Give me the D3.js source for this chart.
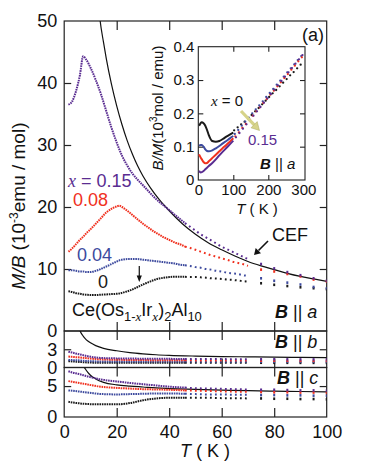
<!DOCTYPE html>
<html><head><meta charset="utf-8">
<script src="https://cdn.jsdelivr.net/npm/d3@7"></script>
<style>
body{margin:0;background:#fff;}
svg{display:block;font-family:"Liberation Sans",Arial,sans-serif;}
</style></head><body>
<svg id="c" width="382" height="466"></svg>
<script>
// ---------- data ----------
const seriesNames = ["x = 0.15", "0.08", "0.04", "0"];
const colors = ["#5a2d91", "#f0301e", "#3d4a9e", "#1a1a1a"];

// main panel (B || a), M/B in 1e-3 emu/mol
const T_main = [1.6,3,4.5,6,7.2,8.5,10,12,14,16,18,20,21,22,24,26,28,30,32,34,36,38,40,42,44,46,48,50,52,54,56,58,60,62,64,66,68,70,75,80,85,90,95,100];
const a_x015 = [36.5,37.0,38.7,41.3,44.3,43.7,42.5,40.5,38.2,35.5,32.8,30.4,29.3,28.3,26.7,25.4,24.4,23.5,22.6,21.7,20.9,20.2,19.5,18.8,18.1,17.4,16.8,16.2,15.6,15.1,14.6,14.1,13.6,13.2,12.8,12.4,12.0,11.6,10.8,10.1,9.5,9.0,8.5,8.1];
const a_x008 = [12.8,13.3,14.0,14.7,15.2,15.8,16.4,17.3,18.2,19.1,19.7,20.1,20.2,20.0,19.4,18.7,18.0,17.3,16.7,16.1,15.6,15.1,14.7,14.3,14.0,13.6,13.4,13.1,12.8,12.5,12.2,12.0,11.7,11.5,11.2,11.0,10.8,10.5,9.9,9.6,9.2,8.8,8.3,8.0];
const a_x004 = [9.8,9.8,9.7,9.6,9.6,9.5,9.5,9.7,10.0,10.4,10.8,11.2,11.4,11.5,11.6,11.6,11.6,11.5,11.4,11.3,11.2,11.1,11.0,10.9,10.7,10.6,10.5,10.3,10.2,10.0,9.9,9.7,9.6,9.4,9.3,9.2,9.0,8.9,8.5,8.1,7.8,7.5,7.1,6.9];
const a_x000 = [6.4,6.3,6.1,6.0,5.9,5.85,5.8,5.8,5.85,5.9,5.95,6.0,6.05,6.15,6.4,6.7,7.1,7.5,7.85,8.2,8.45,8.6,8.7,8.75,8.75,8.75,8.7,8.7,8.65,8.6,8.5,8.45,8.4,8.3,8.25,8.15,8.05,7.95,7.7,7.45,7.25,7.05,6.9,6.75];
const T_cefA = [13.2,13.7,15,16,18,20,22,24,26,28,30,33,36,40,45,50,55,60,65,70,75,80,85,90,95,100];
const cefA = [52,50,46.5,44,39.8,36.3,33.3,30.7,28.5,26.6,25,23,21.3,19.4,17.3,15.6,14.2,13.1,12.1,11.2,10.5,9.9,9.3,8.8,8.4,8.0];

// panels B || b and B || c
const T_bc = [1.6,3,5,7,9,11,13,15,20,25,30,35,40,46,50,55,60,65,70,75,80,85,90,95,100];
const b_x015 = [2.6,2.45,2.25,2.05,1.85,1.7,1.6,1.55,1.5,1.47,1.45,1.43,1.42,1.4,1.4,1.39,1.38,1.37,1.36,1.35,1.35,1.34,1.33,1.33,1.32];
const b_x008 = [1.8,1.75,1.68,1.6,1.5,1.42,1.36,1.32,1.27,1.24,1.22,1.2,1.19,1.18,1.17,1.16,1.15,1.14,1.13,1.12,1.12,1.11,1.1,1.1,1.09];
const b_x004 = [1.25,1.22,1.18,1.12,1.06,1.02,1.0,0.99,0.98,0.98,0.98,0.98,0.97,0.97,0.97,0.96,0.96,0.96,0.95,0.95,0.95,0.94,0.94,0.94,0.93];
const b_x000 = [1.05,1.0,0.94,0.88,0.83,0.8,0.78,0.77,0.77,0.77,0.78,0.79,0.8,0.8,0.8,0.8,0.79,0.79,0.78,0.78,0.77,0.77,0.76,0.76,0.75];
const T_cefB = [5.8,6,7,8,9,10,12,15,20,25,30,35,40,50,60,70,80,90,100];
const cefB = [6.4,6.1,5.3,4.75,4.35,4.05,3.6,3.15,2.75,2.45,2.25,2.1,2.0,1.88,1.8,1.75,1.7,1.66,1.62];

const c_x015 = [7.4,7.2,7.0,6.8,6.55,6.35,6.15,6.0,5.75,5.5,5.3,5.1,4.9,4.75,4.65,4.6,4.55,4.5,4.45,4.4,4.4,4.35,4.3,4.3,4.25];
const c_x008 = [5.8,5.7,5.55,5.4,5.25,5.1,4.95,4.85,4.7,4.6,4.5,4.45,4.4,4.3,4.25,4.2,4.15,4.1,4.1,4.05,4.0,4.0,3.95,3.95,3.9];
const c_x004 = [4.3,4.25,4.15,4.05,3.95,3.85,3.75,3.7,3.65,3.7,3.75,3.8,3.8,3.75,3.7,3.65,3.65,3.6,3.6,3.55,3.55,3.5,3.5,3.45,3.45];
const c_x000 = [2.45,2.35,2.25,2.15,2.1,2.05,2.05,2.05,2.05,2.25,2.7,3.0,3.1,3.1,3.1,3.1,3.05,3.05,3.0,3.0,2.95,2.95,2.9,2.9,2.85];
const T_cefC = [7.3,7.6,8,9,10,12,15,20,25,30,35,40,50,60,70,80,90,100];
const cefC = [8.4,8.1,7.8,7.2,6.75,6.15,5.6,5.2,5.0,4.85,4.7,4.6,4.45,4.35,4.25,4.18,4.12,4.05];

// inset B/M (1e3 mol/emu)
const T_inLine = [2,4,7,10,15,20,25,30,40,50,60,70,80,90,100];
const in_x000 = [0.163,0.166,0.171,0.173,0.17,0.163,0.15,0.135,0.117,0.115,0.117,0.123,0.13,0.136,0.142];
const in_x004 = [0.103,0.104,0.105,0.105,0.1,0.092,0.087,0.086,0.089,0.095,0.102,0.11,0.117,0.125,0.132];
const in_x008 = [0.077,0.073,0.067,0.062,0.054,0.05,0.051,0.056,0.066,0.076,0.086,0.096,0.105,0.115,0.125];
const in_x015 = [0.027,0.025,0.0226,0.0235,0.027,0.032,0.037,0.042,0.051,0.062,0.074,0.085,0.096,0.107,0.118];
const T_inDots = [105,115,125,135,145,155,165,175,185,195,205,215,225,235,245,255,265,275,285,295];
const ind_x000 = [0.149,0.158,0.167,0.175,0.184,0.195,0.206,0.216,0.227,0.238,0.249,0.26,0.27,0.281,0.292,0.303,0.314,0.324,0.335,0.346];
const ind_x004 = [0.138,0.15,0.163,0.175,0.187,0.2,0.212,0.224,0.236,0.249,0.261,0.273,0.286,0.298,0.31,0.323,0.335,0.347,0.36,0.372];
const ind_x008 = [0.131,0.143,0.156,0.168,0.181,0.193,0.206,0.218,0.231,0.243,0.256,0.268,0.281,0.293,0.306,0.318,0.331,0.343,0.356,0.368];
const ind_x015 = [0.128,0.141,0.154,0.167,0.18,0.193,0.206,0.219,0.232,0.245,0.258,0.271,0.284,0.297,0.31,0.323,0.336,0.349,0.362,0.375];

const xTicks = [0,20,40,60,80,100];
const yTicksA = [0,10,20,30,40,50];
const yTicksB = [0,3];
const yTicksC = [0,5];
const insetXTicks = [0,100,200,300];
const insetYTicks = [0,0.1,0.2,0.3,0.4];

// ---------- layout ----------
const svg = d3.select("#c");
svg.append("rect").attr("width",382).attr("height",466).attr("fill","#fff");
const X0 = 64.2, X1 = 326.7;
const x = d3.scaleLinear([0,100],[X0,X1]);
const yA = d3.scaleLinear([0,50],[331,21]);
const yB = d3.scaleLinear([0,6],[367.5,331]);
const yC = d3.scaleLinear([0,8],[417,367.5]);
const xi = d3.scaleLinear([0,300],[198.3,303.3]);
const yi = d3.scaleLinear([0,0.4],[180,46.7]);
const INSET_R = 305;
const FRAME = "#222";

const defs = svg.append("defs");
function clip(id, y0, y1){
  defs.append("clipPath").attr("id",id).append("rect")
    .attr("x",X0).attr("y",y0).attr("width",X1-X0).attr("height",y1-y0);
}
clip("clA",21,331); clip("clB",331,367.5); clip("clC",367.5,417);

function drawSeries(g, T, V, y, color){
  const pts = T.map((t,i)=>[t,V[i]]);
  const line = d3.line().x(d=>x(d[0])).y(d=>y(d[1])).curve(d3.curveMonotoneX);
  const dense = pts.filter(d=>d[0]<=46);
  const mid = pts.filter(d=>d[0]>=46 && d[0]<=70);
  const sparse = pts.filter(d=>d[0]>70);
  g.append("path").attr("d",line(dense)).attr("fill","none").attr("stroke",color)
    .attr("stroke-width",2).attr("stroke-dasharray","1.6,0.8");
  g.append("path").attr("d",line(mid)).attr("fill","none").attr("stroke",color)
    .attr("stroke-width",2).attr("stroke-dasharray","1.8,3.2");
  g.selectAll(null).data(sparse).join("rect")
    .attr("x",d=>x(d[0])-1).attr("y",d=>y(d[1])-1.3)
    .attr("width",2).attr("height",2.6).attr("fill",color);
}
function drawCEF(g, T, V, y){
  const line = d3.line().x((d,i)=>x(T[i])).y(d=>y(d)).curve(d3.curveMonotoneX);
  g.append("path").attr("d",line(V)).attr("fill","none").attr("stroke","#111").attr("stroke-width",1.2);
}

function panel(y, ticksL, ticksIn, clipId, top, bottom, labelBottom){
  const g = svg.append("g");
  g.append("rect").attr("x",X0).attr("y",top).attr("width",X1-X0).attr("height",bottom-top)
    .attr("fill","none").attr("stroke",FRAME).attr("stroke-width",1.2);
  const la = g.append("g").attr("transform",`translate(${X0},0)`)
    .call(d3.axisLeft(y).tickValues(ticksL).tickSizeInner(-7).tickSizeOuter(0).tickPadding(7).tickFormat(d3.format("d")));
  const ra = g.append("g").attr("transform",`translate(${X1},0)`)
    .call(d3.axisRight(y).tickValues(ticksIn).tickSizeInner(-7).tickSizeOuter(0).tickFormat(""));
  const ta = g.append("g").attr("transform",`translate(0,${top})`)
    .call(d3.axisTop(x).tickValues([20,40,60,80]).tickSizeInner(-9).tickSizeOuter(0).tickFormat(""));
  const ba = g.append("g").attr("transform",`translate(0,${bottom})`)
    .call(d3.axisBottom(x).tickValues(labelBottom ? xTicks : [20,40,60,80]).tickSizeInner(-9).tickSizeOuter(0).tickPadding(8)
      .tickFormat(labelBottom ? d3.format("d") : ""));
  [la,ra,ta,ba].forEach(a=>{
    a.select(".domain").remove();
    a.selectAll(".tick line").attr("stroke",FRAME).attr("stroke-width",1.2);
    a.selectAll("text").attr("font-size",18).attr("fill","#111").attr("font-family","'Liberation Sans',Arial,sans-serif");
  });
  la.selectAll(".tick").filter(d=>!ticksIn.includes(d)).select("line").remove();
  ba.selectAll(".tick").filter(d=>d===0||d===100).select("line").remove();
  return g;
}

const gA = panel(yA, yTicksA, [10,20,30,40], "clA", 21, 331, false);
const gB = panel(yB, yTicksB, [3], "clB", 331, 367.5, false);
const gC = panel(yC, yTicksC, [5], "clC", 367.5, 417, true);

// series
const dA = svg.append("g").attr("clip-path","url(#clA)");
drawCEF(dA, T_cefA, cefA, yA);
[a_x000,a_x004,a_x008,a_x015].forEach((v,i)=>drawSeries(dA, T_main, v, yA, colors[3-i]));
const dB = svg.append("g").attr("clip-path","url(#clB)");
drawCEF(dB, T_cefB, cefB, yB);
[b_x000,b_x004,b_x008,b_x015].forEach((v,i)=>drawSeries(dB, T_bc, v, yB, colors[3-i]));
const dC = svg.append("g").attr("clip-path","url(#clC)");
drawCEF(dC, T_cefC, cefC, yC);
[c_x000,c_x004,c_x008,c_x015].forEach((v,i)=>drawSeries(dC, T_bc, v, yC, colors[3-i]));

// ---------- text helpers ----------
function txt(xp, yp, size, color){
  return svg.append("text").attr("x",xp).attr("y",yp).attr("font-size",size).attr("fill",color||"#111");
}
const SERIF = "'Liberation Serif','Times New Roman',serif";
function xeq(t){ t.append("tspan").attr("font-family",SERIF).attr("font-style","italic").text("x"); }

let t = txt(68,187,18,colors[0]); xeq(t); t.append("tspan").text(" = 0.15");
txt(73,206,18,colors[1]).text("0.08");
txt(77,261,18,colors[2]).text("0.04");
txt(98,288,18,colors[3]).text("0");

t = txt(72,316,18,"#111");
t.append("tspan").text("Ce(Os");
t.append("tspan").attr("dy",5).attr("font-size",13).text("1-");
t.append("tspan").attr("font-size",13).attr("font-family",SERIF).attr("font-style","italic").text("x");
t.append("tspan").attr("dy",-5).text("Ir");
t.append("tspan").attr("dy",5).attr("font-size",13).attr("font-family",SERIF).attr("font-style","italic").text("x");
t.append("tspan").attr("dy",-5).text(")");
t.append("tspan").attr("dy",5).attr("font-size",13).text("2");
t.append("tspan").attr("dy",-5).text("Al");
t.append("tspan").attr("dy",5).attr("font-size",13).text("10");

function bpar(xp, yp, letter, size){
  const s = txt(xp, yp, size, "#111");
  s.append("tspan").attr("font-weight","bold").attr("font-style","italic").text("B");
  s.append("tspan").text(" || ");
  s.append("tspan").attr("font-style","italic").text(letter);
  return s;
}
bpar(275,318,"a",18);
bpar(275,348,"b",18);
bpar(277,384,"c",18);

txt(272,241,18,"#111").text("CEF");
svg.append("line").attr("x1",268).attr("y1",241).attr("x2",258.5).attr("y2",250.5).attr("stroke","#111").attr("stroke-width",1.6);
svg.append("polygon").attr("points","254,255 261,253.3 255.7,248").attr("fill","#111");
svg.append("line").attr("x1",x(28.6)).attr("y1",266).attr("x2",x(28.6)).attr("y2",276).attr("stroke","#111").attr("stroke-width",1.2);
svg.append("polygon").attr("points",`${x(28.6)},282 ${x(28.6)-2.6},275.5 ${x(28.6)+2.6},275.5`).attr("fill","#111");

t = svg.append("text").attr("transform","translate(25,206) rotate(-90)").attr("text-anchor","middle").attr("font-size",19).attr("fill","#111");
t.append("tspan").attr("font-style","italic").text("M/B");
t.append("tspan").text(" (10");
t.append("tspan").attr("dy",-7).attr("font-size",12).text("-3");
t.append("tspan").attr("dy",7).text("emu / mol)");

t = txt(205,457,18,"#111").attr("text-anchor","middle");
t.append("tspan").attr("font-style","italic").text("T");
t.append("tspan").text(" ( K )");

txt(302,41,18,"#111").text("(a)");

// ---------- inset ----------
const gi = svg.append("g");
gi.append("rect").attr("x",xi(0)).attr("y",yi(0.4)).attr("width",INSET_R-xi(0)).attr("height",yi(0)-yi(0.4))
  .attr("fill","#fff").attr("stroke",FRAME).attr("stroke-width",1.1);
const il = gi.append("g").attr("transform",`translate(${xi(0)},0)`)
  .call(d3.axisLeft(yi).tickValues(insetYTicks).tickSizeInner(-5).tickSizeOuter(0).tickPadding(4).tickFormat(d=>d===0?"0":d.toFixed(1)));
const ir = gi.append("g").attr("transform",`translate(${INSET_R},0)`)
  .call(d3.axisRight(yi).tickValues([0.1,0.2,0.3]).tickSizeInner(-5).tickSizeOuter(0).tickFormat(""));
const ib = gi.append("g").attr("transform",`translate(0,${yi(0)})`)
  .call(d3.axisBottom(xi).tickValues(insetXTicks).tickSizeInner(-5).tickSizeOuter(0).tickPadding(4));
const it = gi.append("g").attr("transform",`translate(0,${yi(0.4)})`)
  .call(d3.axisTop(xi).tickValues([100,200]).tickSizeInner(-5).tickSizeOuter(0).tickFormat(""));
[il,ir,ib,it].forEach(a=>{
  a.select(".domain").remove();
  a.selectAll(".tick line").attr("stroke",FRAME).attr("stroke-width",1.1);
  a.selectAll("text").attr("font-size",15).attr("fill","#111").attr("font-family","'Liberation Sans',Arial,sans-serif");
});
il.selectAll(".tick").filter(d=>d===0||d===0.4).select("line").remove();
ib.selectAll(".tick").filter(d=>d===0||d===300).select("line").remove();

const iline = d3.line().x((d,i)=>xi(T_inLine[i])).y(d=>yi(d)).curve(d3.curveMonotoneX);
[in_x000,in_x004,in_x008,in_x015].forEach((v,i)=>{
  gi.append("path").attr("d",iline(v)).attr("fill","none").attr("stroke",colors[3-i]).attr("stroke-width",2);
});
[ind_x000,ind_x004,ind_x008,ind_x015].forEach((v,i)=>{
  gi.selectAll(null).data(v).join("circle")
    .attr("cx",(d,j)=>xi(T_inDots[j]) + (i-1.5)*0.6).attr("cy",d=>yi(d)).attr("r",1.15).attr("fill",colors[3-i]);
});

gi.append("line").attr("x1",241).attr("y1",111).attr("x2",254.2).attr("y2",124.9)
  .attr("stroke","#d6d389").attr("stroke-width",3.2);
gi.append("polygon").attr("points","259.5,130.5 251,127.8 257.2,121.6").attr("fill","#d6d389").attr("stroke","#a9a660").attr("stroke-width",0.5);

t = gi.append("text").attr("x",211).attr("y",106).attr("font-size",15).attr("fill","#111");
xeq(t); t.append("tspan").text(" = 0");
gi.append("text").attr("x",248).attr("y",145).attr("font-size",15).attr("fill",colors[0]).text("0.15");
t = gi.append("text").attr("x",260).attr("y",169).attr("font-size",15).attr("fill","#111");
t.append("tspan").attr("font-weight","bold").attr("font-style","italic").text("B");
t.append("tspan").text(" || ");
t.append("tspan").attr("font-style","italic").text("a");

t = gi.append("text").attr("x",257).attr("y",214).attr("text-anchor","middle").attr("font-size",15).attr("fill","#111");
t.append("tspan").attr("font-style","italic").text("T");
t.append("tspan").text(" ( K )");

t = gi.append("text").attr("transform","translate(163,108) rotate(-90)").attr("text-anchor","middle").attr("font-size",15).attr("fill","#111");
t.append("tspan").attr("font-style","italic").text("B/M");
t.append("tspan").text("(10");
t.append("tspan").attr("dy",-6).attr("font-size",10).text("3");
t.append("tspan").attr("dy",6).text("mol / emu)");
</script></body></html>
